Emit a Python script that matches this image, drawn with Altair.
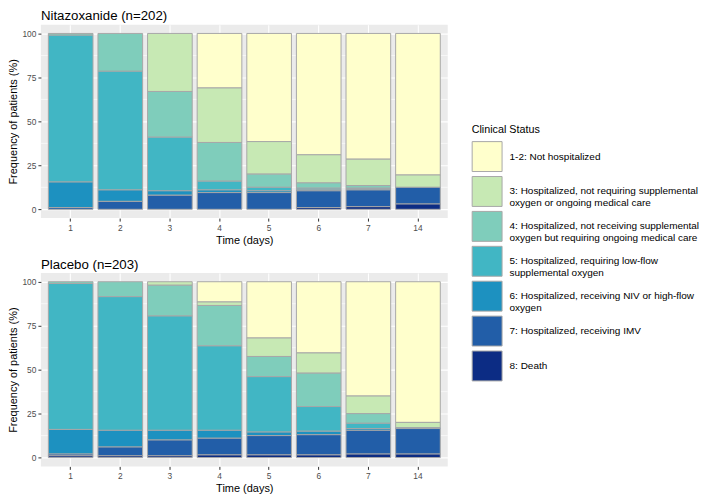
import altair as alt
import pandas as pd

days = ["1", "2", "3", "4", "5", "6", "7", "14"]
statuses = [
    "1-2: Not hospitalized",
    "3: Hospitalized, not requiring supplemental\noxygen or ongoing medical care",
    "4: Hospitalized, not receiving supplemental\noxygen but requiring ongoing medical care",
    "5: Hospitalized, requiring low-flow\nsupplemental oxygen",
    "6: Hospitalized, receiving NIV or high-flow\noxygen",
    "7: Hospitalized, receiving IMV",
    "8: Death",
]
colors = ["#FFFFCC", "#C7E9B4", "#7FCDBB", "#41B6C4", "#1D91C0", "#225EA8", "#0C2C84"]

# Nitazoxanide (n=202): percent of patients per status, by day
nit_12 = [0, 0, 0, 31, 61.5, 69, 71.5, 80.5]
nit_3 = [0, 0, 33, 31, 18.5, 16, 15, 7]
nit_4 = [1, 21.5, 26, 22, 7.5, 3, 1.5, 0]
nit_5 = [83.5, 67.5, 30.5, 5, 2, 1, 0.5, 0]
nit_6 = [14.5, 6.5, 2.5, 1.5, 1, 0.5, 0.5, 0]
nit_7 = [1, 4.5, 8, 9.5, 9.5, 9.5, 9.5, 9.5]
nit_8 = [0, 0, 0, 0, 0, 1, 1.5, 3]

# Placebo (n=203)
pla_12 = [0, 0, 0, 11.5, 32, 40.5, 65, 80]
pla_3 = [0, 0, 2, 2, 10.5, 11.5, 10, 3]
pla_4 = [1, 8.5, 17.5, 23, 11.5, 19, 5.5, 0]
pla_5 = [83, 76, 65, 48, 31.5, 14, 3, 0]
pla_6 = [14, 9.5, 5.5, 4.5, 2, 2, 1, 0.5]
pla_7 = [1, 5, 9, 9.5, 11, 11.5, 13.5, 14.5]
pla_8 = [1, 1, 1, 1.5, 1.5, 1.5, 2, 2]

y_ticks = [0, 25, 50, 75, 100]
y_minor = [12.5, 37.5, 62.5, 87.5]


def make_df(series):
    rows = []
    for si, (status, vals) in enumerate(zip(statuses, series)):
        for d, v in zip(days, vals):
            if v > 0:
                rows.append({"day": d, "status": status, "pct": v, "rank": len(statuses) - si})
    return pd.DataFrame(rows)


nit_df = make_df([nit_12, nit_3, nit_4, nit_5, nit_6, nit_7, nit_8])
pla_df = make_df([pla_12, pla_3, pla_4, pla_5, pla_6, pla_7, pla_8])

yscale = alt.Scale(domain=[-5, 105], nice=False, zero=False)
ytitle = "Frequency of patients (%)"

legend = alt.Legend(
    title="Clinical Status",
    orient="none",
    legendX=432,
    legendY=100,
    symbolType="square",
    symbolSize=900,
    symbolStrokeColor="#A8A8A8",
    symbolStrokeWidth=1,
    symbolOpacity=1,
    labelExpr="split(datum.label, '\\n')",
    labelFontSize=10,
    labelColor="black",
    labelLimit=240,
    labelOffset=7,
    titleFontSize=10.8,
    titleFontWeight="normal",
    titleColor="black",
    titlePadding=6,
    rowPadding=0,
)


def panel(df, title):
    minor = alt.Chart(pd.DataFrame({"v": y_minor})).mark_rule(
        color="white", strokeWidth=0.6
    ).encode(y=alt.Y("v:Q", scale=yscale, title=ytitle, axis=alt.Axis(values=y_ticks)))
    bars = alt.Chart(df).mark_bar(stroke="#A8A8A8", strokeWidth=1, opacity=1).encode(
        x=alt.X(
            "day:N",
            sort=days,
            title="Time (days)",
            scale=alt.Scale(paddingInner=0.1, paddingOuter=0.15),
            axis=alt.Axis(labelAngle=0, grid=True, bandPosition=0.5),
        ),
        y=alt.Y(
            "pct:Q",
            stack="zero",
            scale=yscale,
            title=ytitle,
            axis=alt.Axis(values=y_ticks, grid=True),
        ),
        color=alt.Color("status:N", scale=alt.Scale(domain=statuses, range=colors), legend=legend),
        order=alt.Order("rank:Q", sort="ascending"),
    )
    return alt.layer(minor, bars).properties(
        width=408,
        height=194,
        title=alt.TitleParams(title, anchor="start", frame="group", offset=2,
                              fontSize=13.3, fontWeight="normal", color="black"),
    )


chart = alt.vconcat(panel(nit_df, "Nitazoxanide (n=202)"), panel(pla_df, "Placebo (n=203)"), spacing=11).properties(
    padding=0
).configure(font="Liberation Sans").configure_view(
    fill="#EBEBEB", stroke=None
).configure_axis(
    domain=False,
    gridColor="white",
    gridWidth=1.1,
    tickColor="#333333",
    tickSize=3,
    labelColor="#4D4D4D",
    labelFontSize=8.4,
    labelPadding=2,
    titleFontSize=11,
    titleFontWeight="normal",
    titleColor="black",
    titlePadding=3,
)

chart.save("out.html", embed_options={"renderer": "svg", "actions": False})
